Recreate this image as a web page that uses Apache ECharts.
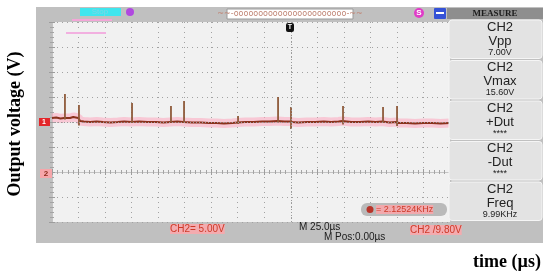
<!DOCTYPE html>
<html>
<head>
<meta charset="utf-8">
<script src="https://cdn.jsdelivr.net/npm/echarts@6/dist/echarts.min.js"></script>
<style>
  html, body { margin: 0; background: #ffffff; }
  #chart { width: 550px; height: 275px; }
</style>
</head>
<body>
<div id="chart"></div>
<script>
// CH2 trace (time in µs, level in V; 25 µs/div, 5 V/div)
const baseTimes = [0, 4, 8, 11.5, 13, 17, 20, 24.8, 26.5, 30, 36, 42, 48, 55, 62, 68, 74.8, 76, 82, 90,
  98, 105, 111.5, 113, 118, 123.8, 125.5, 132, 140, 148, 155, 162, 170, 174.8, 176, 182, 190, 198,
  205, 212.5, 214, 219, 224.6, 226.5, 232, 240, 248, 256, 263, 270, 273.6, 275, 282, 290, 298, 305,
  311.3, 313, 318, 324.5, 326.5, 334, 342, 350, 358, 366, 375]
const baseVolts = [10.8, 10.9, 10.7, 10.8, 10.9, 10.8, 11.0, 10.8, 10.2, 10.1, 10.0, 10.1, 10.0, 9.9, 10.0, 10.1, 10.0, 10.0, 10.1, 10.0,
  10.0, 9.9, 10.0, 10.0, 10.1, 10.0, 10.1, 9.9, 9.9, 9.8, 9.8, 9.7, 9.8, 9.9, 10.0, 10.0, 10.0, 10.1,
  10.1, 10.2, 10.2, 10.1, 10.1, 10.0, 9.9, 10.0, 10.0, 10.1, 10.0, 10.1, 10.2, 10.1, 10.0, 10.0, 10.1, 10.0,
  10.1, 10.0, 9.9, 10.0, 9.8, 9.8, 9.7, 9.8, 9.8, 9.7, 9.8]

// switching spikes: position, top and bottom of each spike
const spikeTimes = [12.2, 25.4, 75.4, 112.1, 124.4, 175.3, 213, 225.2, 274.2, 311.9, 325.1]
const spikePeaks = [15.6, 13.4, 13.8, 13.2, 14.2, 11.2, 15.0, 13.0, 13.2, 13.0, 13.2]
const spikeDips  = [10.5, 9.3, 9.8, 9.9, 9.8, 9.6, 9.9, 8.6, 9.5, 9.8, 9.2]

// measure panel
const measureNames  = ['Vpp', 'Vmax', '+Dut', '-Dut', 'Freq']
const measureValues = ['7.00V', '15.60V', '****', '****', '9.99KHz']

const trace  = baseTimes.map((t, i) => [t, baseVolts[i]])
const spikes = spikeTimes.map((t, i) => [t, spikePeaks[i], spikeDips[i]])

const red  = '#cc3a28'
const pink = 'rgba(255,165,170,0.8)'

const edgeX = (pos) => ({
  type: 'value', min: 0, max: 375, interval: 25, position: pos,
  axisLabel: { show: false },
  axisLine:  { show: true, lineStyle: { color: '#c4c4c4' } },
  axisTick:  { show: true, inside: true, length: 3, lineStyle: { color: '#9c9c9c' } },
  minorTick: { show: true, splitNumber: 5, length: 2, lineStyle: { color: '#a4a4a4' } },
  splitLine: { show: pos === 'bottom', lineStyle: { color: '#a2a2a2', type: [1, 4] } }
})
const edgeY = (pos) => ({
  type: 'value', min: -10, max: 30, interval: 5, position: pos,
  axisLabel: { show: false },
  axisLine:  { show: true, lineStyle: { color: '#c4c4c4' } },
  axisTick:  { show: true, inside: true, length: 3, lineStyle: { color: '#9c9c9c' } },
  minorTick: { show: true, splitNumber: 5, length: 2, lineStyle: { color: '#a4a4a4' } },
  splitLine: { show: pos === 'left', lineStyle: { color: '#a2a2a2', type: [1, 4] } }
})

// scope frame, status icons, measure panel
const graphics = [
  { type: 'rect', z: -100, shape: { x: 36, y: 7, width: 507, height: 236 }, style: { fill: '#c0c0c0' } },
  { type: 'rect', z: -99, shape: { x: 52, y: 22, width: 398, height: 200 }, style: { fill: '#f1f1f1' } },
  // top strip
  { type: 'rect', z: 5, shape: { x: 80, y: 8, width: 41, height: 8 }, style: { fill: '#3fe6ee' } },
  { type: 'text', z: 6, style: { x: 100, y: 12, text: 'Stop', fill: '#7fd4e6', font: '8px "Liberation Sans"', align: 'center', verticalAlign: 'middle' } },
  { type: 'circle', z: 5, shape: { cx: 130, cy: 12, r: 4 }, style: { fill: '#b048e0' } },
  { type: 'rect', z: 5, shape: { x: 72, y: 19, width: 40, height: 2 }, style: { fill: '#f4a6d8' } },
  { type: 'rect', z: 5, shape: { x: 66, y: 32, width: 40, height: 2 }, style: { fill: '#f2b0e0' } },
  { type: 'rect', z: 5, shape: { x: 227, y: 9, width: 126, height: 10 }, style: { fill: '#ffffff', stroke: '#9a9a9a', lineWidth: 1 } },
  { type: 'text', z: 6, style: { x: 290, y: 14, text: '~~-ooooooooooooooooooooooo-~~', fill: '#c08474', font: '8px "DejaVu Sans"', align: 'center', verticalAlign: 'middle' } },
  { type: 'rect', z: 6, shape: { x: 286, y: 23, width: 8, height: 9, r: 2 }, style: { fill: '#111111' } },
  { type: 'text', z: 7, style: { x: 290, y: 27.5, text: 'T', fill: '#ffffff', font: 'bold 7px "Liberation Sans"', align: 'center', verticalAlign: 'middle' } },
  { type: 'circle', z: 5, shape: { cx: 419, cy: 13, r: 5 }, style: { fill: '#e03cc8' } },
  { type: 'text', z: 6, style: { x: 419, y: 13, text: 'S', fill: '#ffffff', font: 'bold 8px "Liberation Sans"', align: 'center', verticalAlign: 'middle' } },
  { type: 'rect', z: 5, shape: { x: 434, y: 8, width: 12, height: 11, r: 1 }, style: { fill: '#3552d6' } },
  { type: 'rect', z: 6, shape: { x: 436, y: 12, width: 8, height: 2 }, style: { fill: '#ffffff' } },
  // channel markers
  { type: 'rect', z: 5, shape: { x: 39, y: 118, width: 11, height: 8 }, style: { fill: '#e3262a' } },
  { type: 'text', z: 6, style: { x: 44, y: 122, text: '1', fill: '#ffffff', font: 'bold 7px "Liberation Sans"', align: 'center', verticalAlign: 'middle' } },
  { type: 'rect', z: 5, shape: { x: 40, y: 169, width: 12, height: 9 }, style: { fill: '#f6a6aa' } },
  { type: 'text', z: 6, style: { x: 46, y: 173.5, text: '2', fill: '#8a2a1a', font: 'bold 8px "Liberation Sans"', align: 'center', verticalAlign: 'middle' } },
  // frequency readout
  { type: 'rect', z: 5, shape: { x: 361, y: 203, width: 86, height: 13, r: 6 }, style: { fill: '#bababa' } },
  { type: 'circle', z: 6, shape: { cx: 370, cy: 209.5, r: 3.5 }, style: { fill: '#b8342a' } },
  { type: 'text', z: 6, style: { x: 376, y: 209.5, text: '= 2.12524KHz', fill: red, backgroundColor: pink, font: '9px "Liberation Sans"', verticalAlign: 'middle' } },
  // bottom strip
  { type: 'text', z: 6, style: { x: 170, y: 229, text: 'CH2= 5.00V', fill: red, backgroundColor: pink, font: '10px "Liberation Sans"', verticalAlign: 'middle' } },
  { type: 'text', z: 6, style: { x: 299, y: 227, text: 'M 25.0µs', fill: '#1a1a1a', font: '10px "Liberation Sans"', verticalAlign: 'middle' } },
  { type: 'text', z: 6, style: { x: 324, y: 237, text: 'M Pos:0.00µs', fill: '#1a1a1a', font: '10px "Liberation Sans"', verticalAlign: 'middle' } },
  { type: 'text', z: 6, style: { x: 410, y: 230, text: 'CH2 /9.80V', fill: red, backgroundColor: pink, font: '10px "Liberation Sans"', verticalAlign: 'middle' } },
  // measure panel header
  { type: 'rect', z: 5, shape: { x: 447, y: 8, width: 96, height: 11 }, style: { fill: '#8e8e8e' } },
  { type: 'text', z: 6, style: { x: 495, y: 13.5, text: 'MEASURE', fill: '#1c1c1c', font: 'bold 9px "Liberation Serif"', align: 'center', verticalAlign: 'middle' } },
  // outer axis titles
  { type: 'text', z: 6, rotation: Math.PI / 2, x: 15, y: 124,
    style: { x: 0, y: 0, text: 'Output voltage (V)', fill: '#000000', font: 'bold 18px "Liberation Serif"', align: 'center', verticalAlign: 'middle' } },
  { type: 'text', z: 6, style: { x: 507, y: 262, text: 'time (µs)', fill: '#000000', font: 'bold 18px "Liberation Serif"', align: 'center', verticalAlign: 'middle' } }
]

measureNames.forEach((name, i) => {
  const y0 = 20 + i * 40.5
  graphics.push(
    { type: 'rect', z: 5, shape: { x: 449, y: y0, width: 93, height: 38.5, r: 3 }, style: { fill: '#e3e3e3', stroke: '#f5f5f5', lineWidth: 1 } },
    { type: 'text', z: 6, style: { x: 500, y: y0 + 7, text: 'CH2', fill: '#222222', font: '13px "Liberation Sans"', align: 'center', verticalAlign: 'middle' } },
    { type: 'text', z: 6, style: { x: 500, y: y0 + 21, text: name, fill: '#222222', font: '13px "Liberation Sans"', align: 'center', verticalAlign: 'middle' } },
    { type: 'text', z: 6, style: { x: 500, y: y0 + 32.5, text: measureValues[i], fill: '#222222', font: '9px "Liberation Sans"', align: 'center', verticalAlign: 'middle' } }
  )
})

const chart = echarts.init(document.getElementById('chart'), null, { renderer: 'canvas' })
chart.setOption({
  animation: false,
  backgroundColor: '#ffffff',
  grid: { left: 52, top: 22, width: 398, height: 200 },
  xAxis: [edgeX('bottom'), edgeX('top')],
  yAxis: [edgeY('left'), edgeY('right')],
  graphic: { elements: graphics },
  series: [
    {
      // pink halo the scope screen shows round the trace
      type: 'line', data: trace, symbol: 'none', silent: true, z: 1,
      lineStyle: { color: 'rgba(255,160,185,0.5)', width: 9 }
    },
    {
      type: 'line', data: trace, symbol: 'none', z: 3,
      lineStyle: { color: '#8a321c', width: 2 },
      markLine: {
        silent: true, symbol: 'none', label: { show: false },
        lineStyle: { color: '#9a9a9a', type: [1, 2], width: 1 },
        data: [{ xAxis: 225 }, { yAxis: 10 }]
      }
    },
    {
      type: 'custom', data: spikes, z: 4,
      encode: { x: 0, y: [1, 2] },
      renderItem: (params, api) => {
        const top = api.coord([api.value(0), api.value(1)])
        const bot = api.coord([api.value(0), api.value(2)])
        return {
          type: 'line',
          shape: { x1: top[0], y1: top[1], x2: bot[0], y2: bot[1] },
          style: { stroke: '#8e5a3a', lineWidth: 1.8 }
        }
      }
    }
  ]
})
</script>
</body>
</html>
